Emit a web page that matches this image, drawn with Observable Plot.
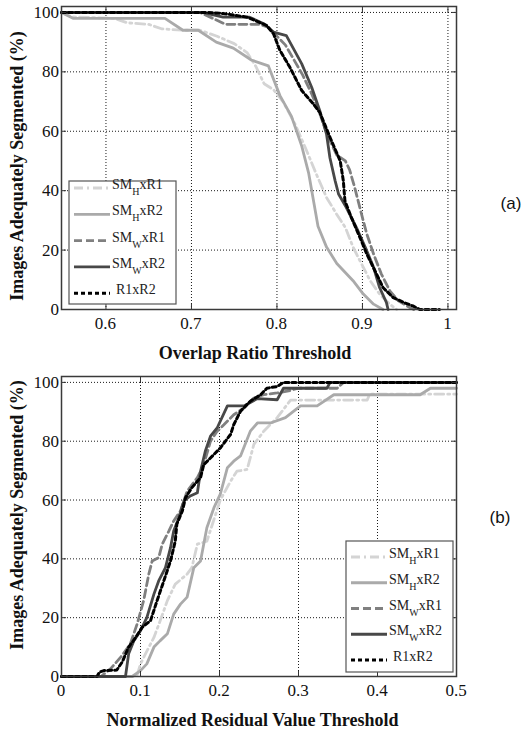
<!DOCTYPE html>
<html><head><meta charset="utf-8">
<script src="https://cdn.jsdelivr.net/npm/d3@7"></script>
<script src="https://cdn.jsdelivr.net/npm/@observablehq/plot@0.6"></script>
<style>
body{margin:0;background:#fff}
#chart svg{display:block}
</style></head><body><div id="chart"></div><script>
// ---------- DATA ----------
const seriesNames = ["SMHxR1", "SMHxR2", "SMWxR1", "SMWxR2", "R1xR2"];
const legendMain = ["SM", "SM", "SM", "SM", "R1xR2"];
const legendSub = ["H", "H", "W", "W", ""];
const legendRest = ["xR1", "xR2", "xR1", "xR2", ""];

// (a) Overlap ratio threshold vs % images adequately segmented
const overlap_SMHxR1 = [[0.548,100],[0.56,98.5],[0.61,98],[0.625,96.5],[0.65,96],[0.665,94.5],[0.69,94],[0.71,94],[0.73,92],[0.75,89.5],[0.765,86.5],[0.775,82],[0.785,76],[0.796,74],[0.807,70],[0.821,62.5],[0.833,54.6],[0.846,45.6],[0.858,37.7],[0.870,32],[0.88,27.6],[0.889,21],[0.899,15.3],[0.909,9.7],[0.92,5.2],[0.932,1.8],[0.94,0]];
const overlap_SMHxR2 = [[0.548,100],[0.562,98],[0.669,98],[0.69,94],[0.708,94],[0.729,90],[0.749,88],[0.77,84],[0.79,82],[0.8035,72],[0.817,65],[0.829,55],[0.837,46],[0.8425,37],[0.848,28],[0.858,21],[0.870,15.5],[0.889,9.7],[0.901,5.2],[0.913,1.8],[0.924,0]];
const overlap_SMWxR1 = [[0.548,100],[0.71,100],[0.74,96],[0.78,96],[0.79,95],[0.80,92],[0.81,89],[0.82,84],[0.83,79],[0.84,73],[0.85,66],[0.86,58],[0.87,52],[0.88,50],[0.885,47],[0.891,41],[0.899,32],[0.905,25.5],[0.913,18.7],[0.922,12],[0.932,6.3],[0.942,2.9],[0.952,1.2],[0.96,0]];
const overlap_SMWxR2 = [[0.548,100],[0.713,100],[0.737,98.4],[0.768,98.4],[0.784,96.3],[0.796,93.4],[0.811,92.2],[0.829,82.7],[0.8406,74.8],[0.85,67],[0.858,59],[0.862,51],[0.868,43.4],[0.872,38.9],[0.881,34.4],[0.893,27.6],[0.905,19.8],[0.913,14.2],[0.92,7.4],[0.928,2.4],[0.93,0]];
const overlap_R1xR2 = [[0.548,100],[0.72,100],[0.741,99.5],[0.765,98.4],[0.788,95.6],[0.796,92.8],[0.8035,87.2],[0.815,81.6],[0.829,73.7],[0.8425,69.2],[0.85,66.4],[0.862,58],[0.874,50],[0.8776,43.4],[0.8795,36.6],[0.887,31],[0.897,24.3],[0.905,18.7],[0.9166,11.9],[0.924,7.4],[0.936,4],[0.948,2.4],[0.959,1.2],[0.967,0],[0.99,0]];

// (b) Normalized residual value threshold vs % images adequately segmented
const residual_SMHxR1 = [[0,0],[0.09,0],[0.0958,0.5],[0.1,4.3],[0.1105,9.9],[0.117,13.3],[0.125,19],[0.134,25.8],[0.144,31.4],[0.159,34.8],[0.165,37],[0.172,45],[0.184,46],[0.193,53.4],[0.201,60],[0.214,66.4],[0.222,69.8],[0.235,70.4],[0.2435,78.9],[0.256,83.4],[0.273,88],[0.29,94],[0.387,94],[0.39,96],[0.5,96]];
const residual_SMHxR2 = [[0,0],[0.0895,0],[0.1,2],[0.108,4.3],[0.117,10],[0.125,12.2],[0.134,14.5],[0.142,21.2],[0.1506,24.6],[0.159,27],[0.1675,37],[0.176,39.3],[0.184,50.6],[0.193,57.4],[0.201,62],[0.21,71],[0.218,73.2],[0.2266,75],[0.239,83.4],[0.248,86.2],[0.2646,86.2],[0.2835,88],[0.3025,92],[0.3236,92],[0.3447,95.8],[0.454,95.8],[0.467,98],[0.5,98]];
const residual_SMWxR1 = [[0,0],[0.05,0],[0.062,2.6],[0.0747,6.5],[0.087,11],[0.0958,17.9],[0.104,25.8],[0.1105,34.8],[0.1148,39.3],[0.123,40.4],[0.1275,45],[0.136,49.5],[0.142,52.9],[0.1506,56.3],[0.159,63],[0.172,67.6],[0.18,72],[0.1886,80],[0.197,83.4],[0.2055,85.6],[0.218,89],[0.231,91.3],[0.2435,94.7],[0.256,95.8],[0.273,96.4],[0.2857,97],[0.30,98],[0.349,98],[0.357,100],[0.5,100]];
const residual_SMWxR2 = [[0,0],[0.081,0],[0.085,7.7],[0.0916,12.2],[0.1,15.6],[0.108,20],[0.117,28],[0.123,32.5],[0.1316,37],[0.138,43.8],[0.142,49.5],[0.1485,54],[0.155,59.7],[0.163,61.4],[0.172,62.5],[0.176,69.8],[0.182,76.6],[0.1886,81.7],[0.197,84.5],[0.21,92],[0.231,92],[0.248,94.5],[0.273,94.1],[0.281,98],[0.336,98],[0.34,100],[0.5,100]];
const residual_R1xR2 = [[0,0],[0.045,0],[0.048,1.5],[0.0536,2],[0.07,2.2],[0.077,5],[0.085,10],[0.094,13.3],[0.102,16.7],[0.1127,19],[0.121,25.8],[0.1295,32.5],[0.138,39.3],[0.144,46],[0.146,51.8],[0.153,56.3],[0.157,60.8],[0.165,64.2],[0.176,67.6],[0.18,72],[0.193,75.5],[0.201,77.7],[0.214,82.3],[0.218,85.6],[0.2266,90.2],[0.239,93.6],[0.252,95.8],[0.26,98],[0.273,98.6],[0.281,100],[0.5,100]];

const overlapTicks = [0.6, 0.7, 0.8, 0.9, 1];
const residualTicks = [0, 0.1, 0.2, 0.3, 0.4, 0.5];
const yTicks = [0, 20, 40, 60, 80, 100];

// ---------- STYLES ----------
const styles = [
  {stroke: "#d4d4d4", dash: "9,4,2,4", width: 2.8},
  {stroke: "#aaaaaa", dash: null, width: 2.8},
  {stroke: "#808080", dash: "8,4", width: 2.8},
  {stroke: "#484848", dash: null, width: 2.8},
  {stroke: "#000000", dash: "4,3", width: 3}
];
const serif = "'Liberation Serif', 'Times New Roman', serif";

function tidy(arr, name) {
  return arr.map(([x, y]) => ({series: name, x, y}));
}

function makeChart({data, xDomain, xTicks, height, marginTop, marginBottom, xTitle, xTitleY, xTitleX, yTitleY, tag, tagX, tagY, legend}) {
  const lineMarks = data.map((arr, i) => Plot.line(tidy(arr, seriesNames[i]), {
    x: "x", y: "y", stroke: styles[i].stroke, strokeWidth: styles[i].width,
    strokeDasharray: styles[i].dash, strokeLinejoin: "round", curve: "linear"
  }));
  const decor = (index, scales, values, dims) => {
    const g = d3.create("svg:g").attr("text-anchor", "start").attr("font-family", serif);
    const fl = dims.marginLeft, fb = dims.height - dims.marginBottom;
    // tick labels positioned through Plot's scales
    xTicks.forEach(t => {
      g.append("text").attr("x", scales.x(t)).attr("y", fb + 20).attr("text-anchor", "middle")
        .attr("font-size", 17).attr("fill", "#111").text(String(t));
    });
    yTicks.forEach(t => {
      g.append("text").attr("x", fl - 2).attr("y", scales.y(t)).attr("dy", "0.36em").attr("text-anchor", "end")
        .attr("font-size", 17).attr("fill", "#111").text(String(t));
    });
    g.append("text").attr("x", xTitleX).attr("y", xTitleY).attr("text-anchor", "middle")
      .attr("font-weight", "bold").attr("font-size", 18).attr("fill", "#111").text(xTitle);
    g.append("text").attr("transform", `translate(23,${yTitleY}) rotate(-90)`).attr("text-anchor", "middle")
      .attr("font-weight", "bold").attr("font-size", 18).attr("fill", "#111")
      .text("Images Adequately Segmented (%)");
    g.append("text").attr("class", "tag").attr("x", tagX).attr("y", tagY).attr("dy", "0.35em").attr("text-anchor", "middle")
      .attr("font-size", 17).attr("fill", "#111").text(tag);
    const L = legend;
    g.append("rect").attr("x", L.x).attr("y", L.y).attr("width", L.w).attr("height", L.h)
      .attr("fill", "#fff").attr("stroke", "#555").attr("stroke-width", 1.2);
    seriesNames.forEach((s, i) => {
      const yy = L.first + i * L.step;
      g.append("line").attr("x1", L.x + 5).attr("x2", L.x + 41).attr("y1", yy).attr("y2", yy)
        .attr("stroke", styles[i].stroke).attr("stroke-width", styles[i].width)
        .attr("stroke-dasharray", styles[i].dash);
      const t = g.append("text").attr("x", L.x + 43 + (legendSub[i] ? 0 : 4)).attr("y", yy + 1)
        .attr("text-anchor", "start").attr("font-size", 14).attr("fill", "#222");
      t.append("tspan").text(legendMain[i]);
      if (legendSub[i]) {
        t.append("tspan").attr("dy", 6).attr("font-size", 10).text(legendSub[i]);
        t.append("tspan").attr("dy", -6).text(legendRest[i]);
      }
    });
    return g.node();
  };
  const chart = Plot.plot({
    width: 525, height, marginTop, marginBottom, marginLeft: 61, marginRight: 69,
    style: {color: "#111", background: "#fff"},
    x: {domain: xDomain, ticks: xTicks, label: null, axis: null},
    y: {domain: [0, 102], ticks: yTicks, label: null, axis: null},
    marks: [
      Plot.gridX(xTicks, {stroke: "#000", strokeOpacity: 0.9, strokeDasharray: "1,2"}),
      Plot.gridY(yTicks, {stroke: "#000", strokeOpacity: 0.9, strokeDasharray: "1,2"}),
      ...lineMarks,
      Plot.axisX(xTicks, {anchor: "bottom", tickSize: -5, tickFormat: () => "", label: null, stroke: "#333"}),
      Plot.axisX(xTicks, {anchor: "top", tickSize: -5, tickFormat: () => "", label: null, stroke: "#333"}),
      Plot.axisY(yTicks, {anchor: "left", tickSize: -5, tickFormat: () => "", label: null, stroke: "#333"}),
      Plot.axisY(yTicks, {anchor: "right", tickSize: -5, tickFormat: () => "", label: null, stroke: "#333"}),
      Plot.frame({stroke: "#3a3a3a", strokeWidth: 1.5}),
      decor
    ]
  });
  d3.select(chart).selectAll("text").style("font-family", serif);
  d3.select(chart).selectAll("text.tag").style("font-family", "'Liberation Sans', Arial, sans-serif");
  return chart;
}

const chartA = makeChart({
  data: [overlap_SMHxR1, overlap_SMHxR2, overlap_SMWxR1, overlap_SMWxR2, overlap_R1xR2],
  xDomain: [0.548, 1.01], xTicks: overlapTicks, height: 365, marginTop: 6, marginBottom: 56,
  xTitle: "Overlap Ratio Threshold", xTitleX: 255, xTitleY: 359, yTitleY: 166,
  tag: "(a)", tagX: 511, tagY: 203,
  legend: {x: 69, y: 181, w: 107, h: 123, first: 188, step: 26.3}
});
const chartB = makeChart({
  data: [residual_SMHxR1, residual_SMHxR2, residual_SMWxR1, residual_SMWxR2, residual_R1xR2],
  xDomain: [0, 0.5], xTicks: residualTicks, height: 364, marginTop: 11, marginBottom: 53,
  xTitle: "Normalized Residual Value Threshold", xTitleX: 252.5, xTitleY: 361, yTitleY: 150,
  tag: "(b)", tagX: 500, tagY: 152,
  legend: {x: 346, y: 176, w: 107, h: 131, first: 192, step: 25.75}
});
document.getElementById("chart").append(chartA, chartB);
</script></body></html>
